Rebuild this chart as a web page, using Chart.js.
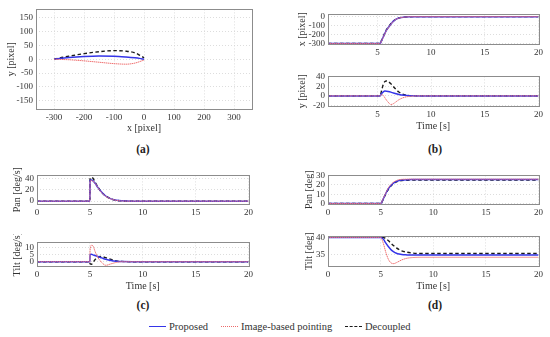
<!DOCTYPE html>
<html>
<head>
<meta charset="utf-8">
<script src="https://cdn.jsdelivr.net/npm/chart.js@4.4.1/dist/chart.umd.min.js"></script>
<style>
  body { margin: 0; background: #fff; }
  #fig { position: relative; width: 550px; height: 337px; overflow: hidden; font-family: "Liberation Serif", "DejaVu Serif", "Times New Roman", serif; color: #333; }
  #fig canvas { position: absolute; }
  .tag { position: absolute; font-weight: bold; font-size: 11.5px; transform: translate(-50%, -50%); color: #222; }
  #legend { position: absolute; left: 0; top: 321px; width: 550px; font-size: 10.5px; color: #333; }
  .item { position: absolute; top: 0; white-space: nowrap; }
  .sw { display: inline-block; width: 17px; height: 0; vertical-align: middle; margin-right: 3px; position: relative; top: -1px; }
</style>
</head>
<body>
<div id="fig">
  <div class="tag" style="left:143px;top:149px">(a)</div>
  <div class="tag" style="left:435px;top:149px">(b)</div>
  <div class="tag" style="left:143px;top:305px">(c)</div>
  <div class="tag" style="left:435px;top:305px">(d)</div>
  <div id="legend">
    <span class="item" style="left:149px"><span class="sw" style="border-top:1.5px solid #3535e8"></span>Proposed</span>
    <span class="item" style="left:221px"><span class="sw" style="border-top:1px dotted #ec6a6a"></span>Image-based pointing</span>
    <span class="item" style="left:345px"><span class="sw" style="border-top:1.5px dashed #1a1a1a"></span>Decoupled</span>
  </div>
</div>
<script>
// (a) image-plane trajectory
const aX = [-300, -275, -250, -200, -150, -100, -60, -30, -15, 0];
const aProposed = [0, 3, 6, 10, 12, 11, 8, 5, 3, 0];
const aImage = [0, -1, -2, -6, -11, -16, -18, -14, -9, -3];
const aDecoupled = [0, 6, 11, 20, 27, 31, 29, 23, 15, 5];

// (b) pixel error vs time
const tB = [0.4, 5.25, 5.4, 5.55, 5.7, 5.85, 6, 6.25, 6.5, 6.75, 7, 7.5, 8, 9, 20];
const bxProposed = [-300, -300, -265, -225, -185, -150, -125, -85, -50, -28, -15, -5, -1, 0, 0];
const bxImage = [-300, -300, -266, -228, -188, -152, -127, -86, -51, -29, -16, -5, -1, 0, 0];
const bxDecoupled = [-300, -300, -262, -220, -180, -145, -120, -80, -48, -27, -15, -5, -1, 0, 0];
const byProposed = [0, 0, 5, 8.5, 10, 9.8, 9.2, 7.8, 6, 4.5, 3, 1.2, 0.3, 0, 0];
const byImage = [0, 0, 3, 1, -4, -9, -13, -18, -16, -12, -8, -3, -1, 0, 0];
const byDecoupled = [0, 0, 12, 24, 30, 31, 30, 25, 19, 13, 8, 2.5, 0.5, 0, 0];

// (c) pan / tilt rates
const tC = [0, 5, 5.02, 5.15, 5.3, 5.5, 5.75, 6, 6.25, 6.5, 7, 7.5, 8, 9, 20];
const cPanProposed = [0, 0, 36, 37, 35.5, 31, 24, 18, 13, 9, 4, 1.5, 0.5, 0, 0];
const cPanImage = [0, 0, 35, 36, 35, 31, 24, 17.5, 12.5, 8.5, 3.8, 1.4, 0.4, 0, 0];
const cPanDecoupled = [0, 0, 40, 41, 40, 33, 25, 18, 13, 9, 4, 1.5, 0.5, 0, 0];
const cTiltProposed = [0, 0, 5, 5.2, 4.8, 4.3, 3.6, 3, 2.3, 1.7, 0.8, 0.3, 0.1, 0, 0];
const cTiltImage = [0, 0, 8, 11.5, 11, 7, 3, 0.5, -1.5, -2.5, -1.5, -0.5, 0, 0, 0];
const cTiltDecoupled = [0, 0, -1.5, -1.8, -0.5, 1.5, 3.2, 3.6, 3.4, 2.8, 1.6, 0.6, 0.2, 0, 0];

// (d) pan / tilt angles
const tD = [0, 5, 5.25, 5.5, 5.75, 6, 6.25, 6.5, 6.75, 7, 7.5, 8, 9, 20];
const dPanProposed = [0, 0, 5, 11, 16, 19.5, 22, 23.6, 24.5, 25, 25.4, 25.5, 25.5, 25.5];
const dPanImage = [0, 0, 5.5, 11.5, 17, 20.5, 23, 24.5, 25.4, 25.8, 26, 26, 26, 26];
const dPanDecoupled = [0, 0, 4.5, 10.5, 15.5, 19, 21.5, 23.2, 24, 24.6, 24.9, 25, 25, 25];
const dTiltProposed = [40, 40, 39.5, 38.3, 37.2, 36.3, 35.7, 35.3, 35.05, 34.9, 34.8, 34.75, 34.75, 34.75];
const dTiltImage = [40, 40, 38.3, 35.5, 33.4, 32.4, 32.2, 32.5, 32.9, 33.3, 33.8, 34, 34.1, 34.1];
const dTiltDecoupled = [40, 40, 40, 39.6, 39, 38.2, 37.5, 36.9, 36.4, 36, 35.6, 35.35, 35.2, 35.2];

// tick labels
const ticksAx = [-300, -200, -100, 0, 100, 200, 300];
const ticksAy = [-150, -100, -50, 0, 50, 100, 150];
const ticksTimeB = [5, 10, 15, 20];
const ticksTime = [0, 5, 10, 15, 20];
const ticksBx = [-300, -200, -100, 0];
const ticksBy = [-20, 0, 20, 40];
const ticksCPan = [0, 20, 40];
const ticksCTilt = [0, 5, 10];
const ticksDPan = [0, 10, 20, 30];
const ticksDTilt = [35, 40];

Chart.defaults.font.family = "'Liberation Serif', 'DejaVu Serif', 'Times New Roman', serif";
Chart.defaults.font.size = 9;
Chart.defaults.color = "#333";

const pts = (xs, ys) => xs.map((x, i) => ({ x: x, y: ys[i] }));

const lines = (xs, prop, img, dec) => [
  { data: pts(xs, img), borderColor: "#ef7373", borderWidth: 1, borderDash: [1.5, 0.5] },
  { data: pts(xs, prop), borderColor: "#3535e8", borderWidth: 1.5 },
  { data: pts(xs, dec), borderColor: "#1a1a1a", borderWidth: 1.4, borderDash: [3.5, 2.5] },
];

const frame = {
  id: "frame",
  afterDraw(chart) {
    const a = chart.chartArea;
    const ctx = chart.ctx;
    ctx.save();
    ctx.strokeStyle = "#8c8c8c";
    ctx.lineWidth = 1;
    ctx.strokeRect(Math.round(a.left) + 0.5, Math.round(a.top) + 0.5, Math.round(a.right - a.left), Math.round(a.bottom - a.top));
    ctx.restore();
  },
};

const axis = (min, max, ticks, title) => ({
  type: "linear",
  min: min,
  max: max,
  afterBuildTicks: (s) => { s.ticks = ticks.map((v) => ({ value: v })); },
  grid: { color: "#d4d4d4", lineWidth: 0.8, drawTicks: false },
  border: { display: false, dash: [1, 2] },
  ticks: { padding: 3, color: "#333", autoSkip: false, maxRotation: 0 },
  title: { display: !!title, text: title || "", font: { size: 10 }, padding: 0, color: "#333" },
});

// p: plot area [left, top, right, bottom] on the page
const makePanel = (p, xAxis, yAxis, yTitleX, xTitleY, datasets) => {
  const yw = yTitleX ? p[0] - yTitleX + 6 : 30;
  const xh = xTitleY ? xTitleY - p[3] + 6 : 16;
  const c = document.createElement("canvas");
  const w = p[2] - p[0] + yw + 5;
  const h = p[3] - p[1] + 5 + xh;
  c.width = w; c.height = h;
  c.style.left = (p[0] - yw) + "px";
  c.style.top = (p[1] - 5) + "px";
  c.style.width = w + "px";
  c.style.height = h + "px";
  document.getElementById("fig").appendChild(c);
  xAxis.afterFit = (s) => { s.height = xh; };
  yAxis.afterFit = (s) => { s.width = yw; };
  new Chart(c, {
    type: "scatter",
    data: { datasets: datasets.map((d) => Object.assign({ showLine: true, pointRadius: 0, cubicInterpolationMode: "monotone", fill: false }, d)) },
    options: {
      responsive: false,
      animation: false,
      layout: { padding: { top: 5, right: 5, left: 0, bottom: 0 } },
      plugins: { legend: { display: false }, tooltip: { enabled: false } },
      scales: { x: xAxis, y: yAxis },
    },
    plugins: [frame],
  });
};

makePanel([36, 6, 252, 109], axis(-360, 360, ticksAx, "x [pixel]"), axis(-180, 180, ticksAy, "y [pixel]"), 11, 128,
  lines(aX, aProposed, aImage, aDecoupled));

makePanel([328, 11, 541, 44], axis(0.4, 20, ticksTimeB), axis(-305, 25, ticksBx, "x [pixel]"), 302, 0,
  lines(tB, bxProposed, bxImage, bxDecoupled));
makePanel([328, 73, 541, 106], axis(0.4, 20, ticksTimeB, "Time [s]"), axis(-21, 40.5, ticksBy, "y [pixel]"), 302, 126,
  lines(tB, byProposed, byImage, byDecoupled));

makePanel([37, 172, 251, 204], axis(0, 20, ticksTime), axis(-5, 45, ticksCPan, "Pan [deg/s]"), 17, 0,
  lines(tC, cPanProposed, cPanImage, cPanDecoupled));
makePanel([37, 239, 251, 266], axis(0, 20, ticksTime, "Time [s]"), axis(-3, 13.5, ticksCTilt, "Tilt [deg/s]"), 17, 286,
  lines(tC, cTiltProposed, cTiltImage, cTiltDecoupled));

makePanel([328, 172, 541, 204], axis(0, 20, ticksTime), axis(-0.5, 30, ticksDPan, "Pan [deg]"), 309, 0,
  lines(tD, dPanProposed, dPanImage, dPanDecoupled));
makePanel([328, 233, 541, 266], axis(0, 20, ticksTime, "Time [s]"), axis(31.5, 40.3, ticksDTilt, "Tilt [deg]"), 309, 286,
  lines(tD, dTiltProposed, dTiltImage, dTiltDecoupled));
</script>
</body>
</html>
